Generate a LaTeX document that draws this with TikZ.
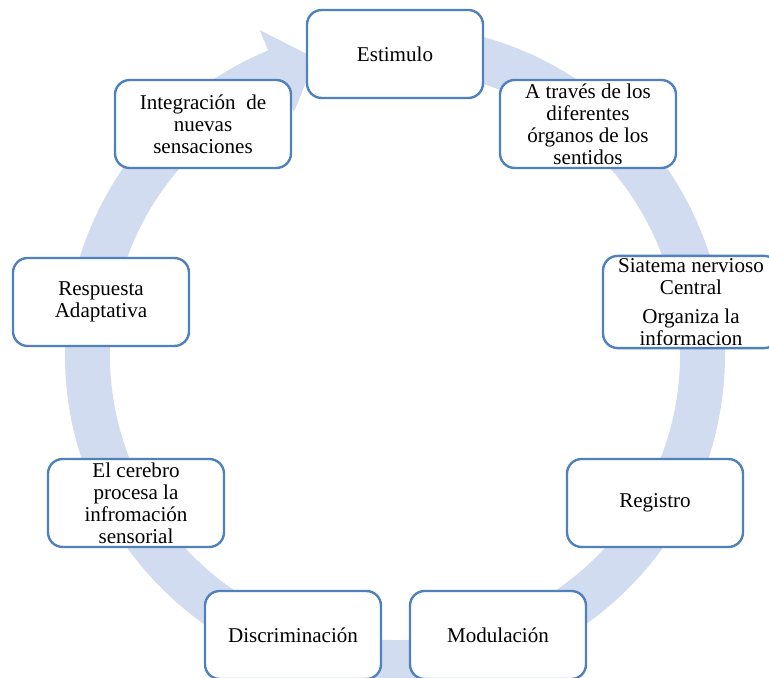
\documentclass[tikz,border=0pt]{standalone}
\usepackage{fontspec}
\setmainfont{Liberation Serif}
\usepackage{tikz}
\usetikzlibrary{calc,positioning}

\definecolor{boxblue}{RGB}{79,129,189}
\definecolor{ringblue}{RGB}{209,220,240}

\tikzset{
  etapa/.style={draw=boxblue, line width=1.8pt, fill=white, rounded corners=11pt,
    minimum width=132pt, minimum height=66pt, align=center, inner sep=2pt,
    font=\fontsize{15.8}{16.5}\selectfont},
  anillo/.style={fill=ringblue, draw=none}
}

\begin{document}
\begin{tikzpicture}[x=0.75pt,y=0.75pt]
  \useasboundingbox (0,0) rectangle (769,678);
  \coordinate (c) at (395,323);
  % flecha circular
  \fill[anillo] ($(c)+(85:330)$) arc[start angle=85, end angle=-247.4, radius=330]
    -- ($(c)+(112.6:352)$) -- ($(c)+(105:307)$) -- ($(c)+(112.6:263)$)
    -- ($(c)+(112.6:285)$) arc[start angle=-247.4, end angle=85, radius=285] -- cycle;
  % etapas
  \node[etapa] (estimulo) at (395,624) {Estimulo};
  \node[etapa] (organos) at (588,554) {A través de los\\diferentes\\órganos de los\\sentidos};
  \node[etapa] (snc) at (691,376) {Siatema nervioso\\Central\\[5pt]Organiza la\\informacion};
  \node[etapa] (registro) at (655,175) {Registro};
  \node[etapa] (modulacion) at (498,43) {Modulación};
  \node[etapa] (discriminacion) at (293,43) {Discriminación};
  \node[etapa] (cerebro) at (136,175) {El cerebro\\procesa la\\infromación\\sensorial};
  \node[etapa] (respuesta) at (101,376) {Respuesta\\Adaptativa};
  \node[etapa] (integracion) at (203,554) {Integración\ \ de\\nuevas\\sensaciones};
\end{tikzpicture}
\end{document}
